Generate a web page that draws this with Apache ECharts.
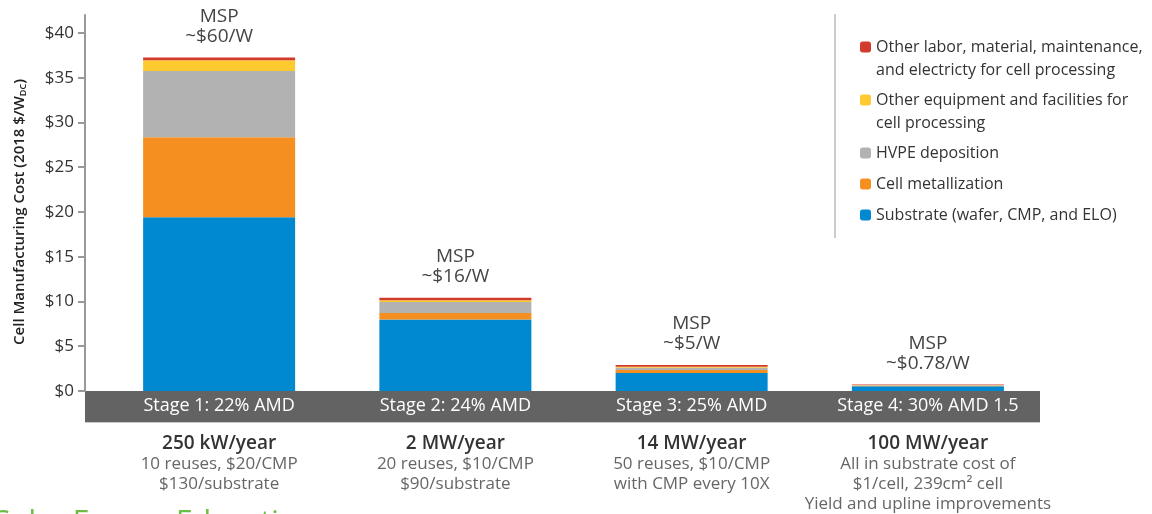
<!DOCTYPE html>
<html>
<head>
<meta charset="utf-8">
<script src="https://cdn.jsdelivr.net/npm/echarts@6/dist/echarts.min.js"></script>
<style>
  html, body { margin: 0; padding: 0; background: #fff; }
  #main { width: 1152px; height: 514px; }
</style>
</head>
<body>
<div id="main"></div>
<script>
// stages along the x axis
var stages = ['Stage 1: 22% AMD', 'Stage 2: 24% AMD', 'Stage 3: 25% AMD', 'Stage 4: 30% AMD 1.5'];
var capacity = ['250 kW/year', '2 MW/year', '14 MW/year', '100 MW/year'];
var notes = [
  ['10 reuses, $20/CMP', '$130/substrate'],
  ['20 reuses, $10/CMP', '$90/substrate'],
  ['50 reuses, $10/CMP', 'with CMP every 10X'],
  ['All in substrate cost of', '$1/cell, 239cm\u00b2 cell', 'Yield and upline improvements']
];
var msp = ['~$60/W', '~$16/W', '~$5/W', '~$0.78/W'];

// cost components, $/W_DC
var substrate = [19.4, 8.0, 2.0, 0.52];
var metallization = [8.95, 0.72, 0.35, 0.07];
var hvpe = [7.4, 1.23, 0.25, 0.05];
var equipment = [1.2, 0.2, 0.12, 0.04];
var otherLabor = [0.3, 0.26, 0.18, 0.04];

var yTicks = [0, 5, 10, 15, 20, 25, 30, 35, 40];

var names = [
  'Substrate (wafer, CMP, and ELO)',
  'Cell metallization',
  'HVPE deposition',
  'Other equipment and facilities for\ncell processing',
  'Other labor, material, maintenance,\nand electricty for cell processing'
];
var colors = ['#0088d1', '#f58f1f', '#b2b2b2', '#fdca2f', '#d13a2c'];
var values = [substrate, metallization, hvpe, equipment, otherLabor];

var font = 'Open Sans';

var myChart = echarts.init(document.getElementById('main'));

var series = [];
for (var i = 0; i < values.length; i++) {
  var s = {
    name: names[i],
    type: 'bar',
    stack: 'cost',
    barWidth: 152,
    data: values[i],
    itemStyle: { color: colors[i] }
  };
  if (i == values.length - 1) {
    s.label = {
      show: true,
      position: 'top',
      distance: 11,
      fontFamily: font,
      fontSize: 19,
      lineHeight: 20,
      color: '#444',
      formatter: function (p) { return 'MSP\n' + msp[p.dataIndex]; }
    };
  }
  series.push(s);
}

// one legend per item so the icon sits on the first text line
var legendTops = [47, 100, 153, 184, 215];
var legends = [];
for (var k = 0; k < 5; k++) {
  var idx = 4 - k;
  var twoLines = names[idx].indexOf('\n') >= 0;
  legends.push({
    data: [names[idx]],
    left: 860,
    top: legendTops[k] - (twoLines ? 34.5 : 11.5),
    padding: 0,
    itemWidth: 11,
    itemHeight: 11,
    itemGap: 7,
    selectedMode: false,
    formatter: twoLines ? function (n) { return ' \n' + n; } : '{name}',
    textStyle: {
      fontFamily: font,
      fontSize: 16,
      lineHeight: 23,
      color: '#333'
    }
  });
}

var option = {
  animation: false,
  grid: { left: 101, right: 106, top: 15, bottom: 123 },
  legend: legends,
  xAxis: [
    {
      type: 'category',
      data: stages,
      axisLine: { show: false },
      axisTick: { show: false },
      axisLabel: { margin: 4, color: '#fff', fontFamily: font, fontSize: 18, lineHeight: 22 }
    },
    {
      type: 'category',
      data: stages,
      position: 'bottom',
      axisLine: { show: false },
      axisTick: { show: false },
      axisLabel: {
        margin: 43,
        formatter: function (v, i) {
          var out = '{cap|' + capacity[i] + '}';
          for (var j = 0; j < notes[i].length; j++) out += '\n{d|' + notes[i][j] + '}';
          return out;
        },
        rich: {
          cap: { fontFamily: font, fontSize: 19, fontWeight: 600, color: '#333', lineHeight: 20 },
          d: { fontFamily: font, fontSize: 17, color: '#666', lineHeight: 20 }
        }
      }
    }
  ],
  yAxis: {
    type: 'value',
    min: 0,
    max: 42,
    interval: 5,
    offset: 16,
    splitLine: { show: false },
    axisLine: { show: true, lineStyle: { color: '#999', width: 2 } },
    axisTick: {
      show: true, length: 7, lineStyle: { color: '#999', width: 2 },
      customValues: yTicks
    },
    axisLabel: {
      fontFamily: font, fontSize: 17, color: '#333', margin: 11,
      customValues: yTicks,
      formatter: function (v) { return v % 5 === 0 ? '$' + v : ''; }
    },
    name: '{t|Cell Manufacturing Cost (2018 $/W}{s|DC}{t|)}',
    nameLocation: 'middle',
    nameGap: 57,
    nameRotate: 90,
    nameTextStyle: {
      padding: [0, 18, 0, 0],
      rich: {
        t: { fontFamily: font, fontSize: 15, fontWeight: 600, color: '#222' },
        s: { fontFamily: font, fontSize: 9, fontWeight: 600, color: '#222', verticalAlign: 'bottom', padding: [7, 0, 0, 0] }
      }
    }
  },
  graphic: [
    { type: 'rect', z: -1, shape: { x: 85, y: 391, width: 955, height: 31 }, style: { fill: '#636363' } },
    { type: 'line', z: -1, shape: { x1: 85, y1: 422.5, x2: 1040, y2: 422.5 }, style: { stroke: '#c8c8c8', lineWidth: 1 } },
    { type: 'line', z: -1, shape: { x1: 835, y1: 14, x2: 835, y2: 238 }, style: { stroke: '#cccccc', lineWidth: 2 } },
    { type: 'text', left: -6, top: 507, style: { text: 'Solar Energy Education', fontFamily: font, fontSize: 30, fill: '#6cbd45' } }
  ],
  series: series
};
myChart.setOption(option);
</script>
</body>
</html>
